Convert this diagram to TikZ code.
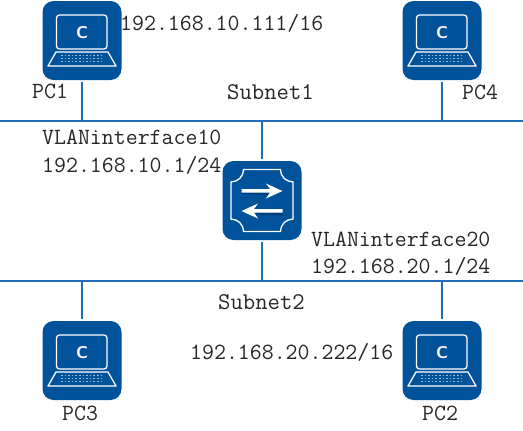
\documentclass[tikz,border=0pt]{standalone}
\usepackage{fontspec}
\definecolor{iconblue}{HTML}{00529B}
\definecolor{iconshade}{HTML}{003F7A}
\definecolor{linkblue}{HTML}{1E6DB4}
\definecolor{labelgrey}{HTML}{262626}
\tikzset{
  devicebox/.style={rectangle,fill=iconblue,rounded corners=11pt,minimum size=79pt,inner sep=0pt,outer sep=0pt},
  link/.style={draw=linkblue,line width=1.7pt},
  drop/.style={link,shorten <=2pt},
  glyphline/.style={draw=white,line width=1.3pt},
  lbl/.style={anchor=west,inner sep=0pt,text=labelgrey,font=\fontsize{23.2}{26}\selectfont\ttfamily},
  netlbl/.style={lbl,font=\fontsize{24}{26}\selectfont\ttfamily},
}
\newcommand{\laptopglyph}{%
  \draw[glyphline,rounded corners=3pt] (-25.5,8.5) -- (-25.5,-25.5) -- (25,-25.5) -- (25,8.5) -- cycle;
  \draw[glyphline,line join=round] (-26,11.5) -- (26,11.5) -- (34,25.5) -- (-34,25.5) -- cycle;
  \foreach \yy in {15,18,21}
    \draw[draw=white!60!iconblue,line width=1.4pt,dash pattern=on 1.6pt off 2pt] (-21,\yy) -- (22,\yy);
  \node[inner sep=0pt,text=white,font=\fontsize{17}{17}\selectfont\bfseries\sffamily] at (0,-7.5) {C};
}
\begin{document}
\begin{tikzpicture}[x=1pt,y=-1pt]
\useasboundingbox (0,0) rectangle (523,431);
% devices
\node[devicebox] (pc1) at (82,40.5) {};
\node[devicebox] (pc4) at (442,40.5) {};
\node[devicebox] (pc3) at (82,360.5) {};
\node[devicebox] (pc2) at (442,360.5) {};
\node[devicebox] (sw) at (262,200.5) {};
% buses
\coordinate (s1l) at (0,121);
\coordinate (s1r) at (523,121);
\coordinate (s2l) at (0,281);
\coordinate (s2r) at (523,281);
\draw[link] (s1l) -- (s1r);
\draw[link] (s2l) -- (s2r);
% drops
\draw[drop] (pc1) -- (pc1 |- s1l);
\draw[drop] (pc4) -- (pc4 |- s1l);
\draw[drop] (sw) -- (sw |- s1l);
\draw[drop] (sw) -- (sw |- s2l);
\draw[drop] (pc3) -- (pc3 |- s2l);
\draw[drop] (pc2) -- (pc2 |- s2l);
% glyphs
\foreach \n in {pc1,pc2,pc3,pc4}{
  \begin{scope}[shift={(\n.center)}]\laptopglyph\end{scope}
}
\begin{scope}[shift={(sw.center)}]
  \draw[glyphline,line join=miter]
    (-18.5,-31) -- (18.5,-31)
    .. controls (19,-23) and (24,-19) .. (31,-18.5)
    -- (31,18.5) .. controls (24,19) and (19,23) .. (18.5,31)
    -- (-18.5,31) .. controls (-19,23) and (-24,19) .. (-31,18.5)
    -- (-31,-18.5) .. controls (-24,-19) and (-19,-23) .. (-18.5,-31) -- cycle;
  \fill[iconshade] (-20.5,-8) -- (7,-8) -- (7,-5.5) -- (-20.5,-6.5) -- cycle;
  \fill[iconshade] (-10,12.5) -- (21,12.5) -- (21,15) -- (-10,14) -- cycle;
  \fill[white] (-20.5,-11.5) -- (8,-11.5) -- (4,-17) -- (20.5,-9.5) -- (4,-2) -- (8,-8) -- (-20.5,-8) -- cycle;
  \fill[white] (20.5,8.5) -- (-8,8.5) -- (-4,3) -- (-20.5,10.5) -- (-4,18) -- (-8,12) -- (20.5,12) -- cycle;
\end{scope}
% labels
\node[lbl] (t1) at (120,23.5) {192.168.10.111/16};
\node[lbl] (t2) at (32,91.5) {PC1};
\node[netlbl] (t3) at (227,92.5) {Subnet1};
\node[lbl] (t4) at (462,92.5) {PC4};
\node[lbl] (t5) at (42,137.5) {VLANinterface10};
\node[lbl] (t6) at (42,165.5) {192.168.10.1/24};
\node[lbl] (t7) at (311,239.5) {VLANinterface20};
\node[lbl] (t8) at (311,266.5) {192.168.20.1/24};
\node[netlbl] (t9) at (218,302.5) {Subnet2};
\node[lbl] (t10) at (190,352.5) {192.168.20.222/16};
\node[lbl] (t11) at (62,413.5) {PC3};
\node[lbl] (t12) at (422,413.5) {PC2};
\end{tikzpicture}
\end{document}
